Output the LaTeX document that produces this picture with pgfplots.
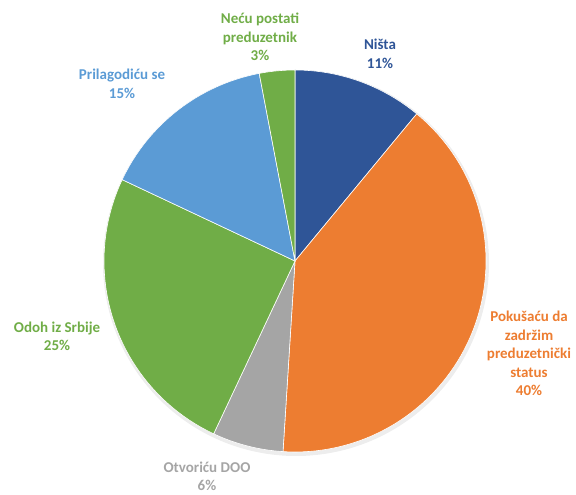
\documentclass[border=0pt]{standalone}
\usepackage{pgfplots}
\pgfplotsset{compat=1.18}
\usepackage{fontspec}
\setmainfont{Carlito}
\definecolor{cBlue}{HTML}{2F5597}
\definecolor{cOrange}{HTML}{ED7D31}
\definecolor{cGray}{HTML}{A5A5A5}
\definecolor{cGreen}{HTML}{70AD47}
\definecolor{cLight}{HTML}{5B9BD5}
\begin{document}
\begin{tikzpicture}
\begin{axis}[
  x=1pt, y=1pt,
  xmin=0, xmax=576, ymin=0, ymax=493,
  hide axis, clip=false,
]
% bounding box
\path (axis cs:0,0) rectangle (axis cs:576,493);
% soft shadow
\fill[black!7] (axis cs:296,230) circle[radius=193pt];
% slices: value/colour, clockwise from 12 o'clock
\pgfplotsextra{%
\def\pcx{295}\def\pcy{232}\def\pR{191pt}%
\xdef\pstart{90}%
\foreach \pval/\pcol in {11/cBlue, 40/cOrange, 6/cGray, 25/cGreen, 15/cLight, 3/cGreen}{
  \pgfmathsetmacro{\pend}{\pstart-\pval*3.6}
  \fill[color=\pcol, draw=white, line width=0.6pt, line join=round]
    (axis cs:\pcx,\pcy) -- ++(\pstart:\pR) arc[start angle=\pstart, end angle=\pend, radius=\pR] -- cycle;
  \global\let\pstart\pend
}%
}
\tikzset{lbl/.style={font=\fontsize{15}{18.5}\selectfont\bfseries, align=center}}
\node[lbl, text=cBlue] at (axis cs:380,439) {Ništa\\11\%};
\node[lbl, text=cOrange] at (axis cs:529,139.5) {Pokušaću da\\zadržim\\preduzetnički\\status\\40\%};
\node[lbl, text=cGray] at (axis cs:207,16.5) {Otvoriću DOO\\6\%};
\node[lbl, text=cGreen] at (axis cs:57,156.5) {Odoh iz Srbije\\25\%};
\node[lbl, text=cLight] at (axis cs:122,409) {Prilagodiću se\\15\%};
\node[lbl, text=cGreen] at (axis cs:260,456) {Neću postati\\preduzetnik\\3\%};
\end{axis}
\end{tikzpicture}
\end{document}
